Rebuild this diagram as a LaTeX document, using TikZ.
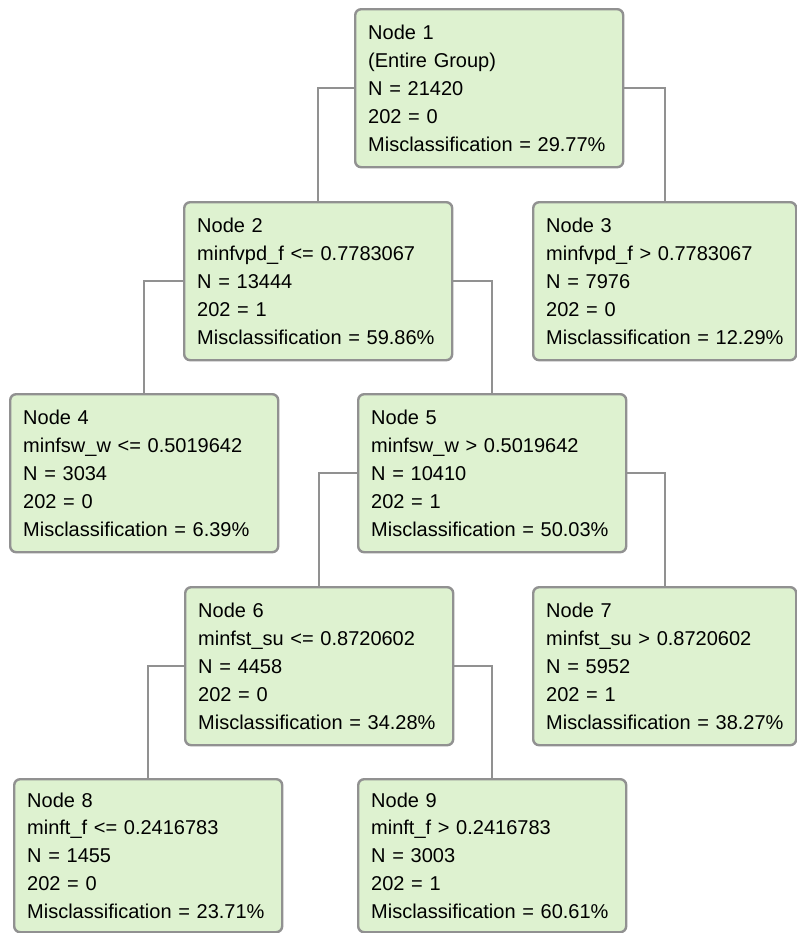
\documentclass[tikz,border=0pt]{standalone}
\usepackage{fontspec}
\setmainfont{Liberation Sans}
\definecolor{boxfill}{RGB}{222,242,208}
\definecolor{boxline}{RGB}{145,145,145}

\begin{document}
\begin{tikzpicture}[x=0.75pt,y=-0.75pt,
	treebox/.style={rectangle, rounded corners=4.5pt, draw=boxline, line width=1.8pt, fill=boxfill, anchor=north west, text width=181.5pt, inner xsep=9.75pt, inner ysep=0pt, minimum height=118.5pt, align=left, font=\fontsize{15}{20.9}\selectfont},
	narrow/.style={text width=177.75pt},
	lowrow/.style={minimum height=114.75pt},
	link/.style={draw=boxline, line width=1.8pt}]
	
	\useasboundingbox (0,0) rectangle (797,933);
	
	%Nodes
	\node[treebox]	(n1)	at (354,8)	{Node 1\\(Entire Group)\\N = 21420\\202 = 0\\Misclassification = 29.77\%};
	\node[treebox]	(n2)	at (183,201)	{Node 2\\minfvpd\_f <= 0.7783067\\N = 13444\\202 = 1\\Misclassification = 59.86\%};
	\node[treebox, narrow]	(n3)	at (532,201)	{Node 3\\minfvpd\_f > 0.7783067\\N = 7976\\202 = 0\\Misclassification~=~12.29\%};
	\node[treebox]	(n4)	at (9,393)	{Node 4\\minfsw\_w <= 0.5019642\\N = 3034\\202 = 0\\Misclassification = 6.39\%};
	\node[treebox]	(n5)	at (357,393)	{Node 5\\minfsw\_w > 0.5019642\\N = 10410\\202 = 1\\Misclassification = 50.03\%};
	\node[treebox]	(n6)	at (184,586)	{Node 6\\minfst\_su <= 0.8720602\\N = 4458\\202 = 0\\Misclassification = 34.28\%};
	\node[treebox, narrow]	(n7)	at (532,586)	{Node 7\\minfst\_su > 0.8720602\\N = 5952\\202 = 1\\Misclassification~=~38.27\%};
	\node[treebox, lowrow]	(n8)	at (13,778)	{Node 8\\minft\_f <= 0.2416783\\N = 1455\\202 = 0\\Misclassification = 23.71\%};
	\node[treebox, lowrow]	(n9)	at (357,778)	{Node 9\\minft\_f > 0.2416783\\N = 3003\\202 = 1\\Misclassification = 60.61\%};
	
	%Lines
	\draw[link] (n1.west) -| (n2.north);
	\draw[link] (n1.east) -| (n3.north);
	\draw[link] (n2.west) -| (n4.north);
	\draw[link] (n2.east) -| (n5.north);
	\draw[link] (n5.west) -| (n6.north);
	\draw[link] (n5.east) -| (n7.north);
	\draw[link] (n6.west) -| (n8.north);
	\draw[link] (n6.east) -| (n9.north);
\end{tikzpicture}
\end{document}
